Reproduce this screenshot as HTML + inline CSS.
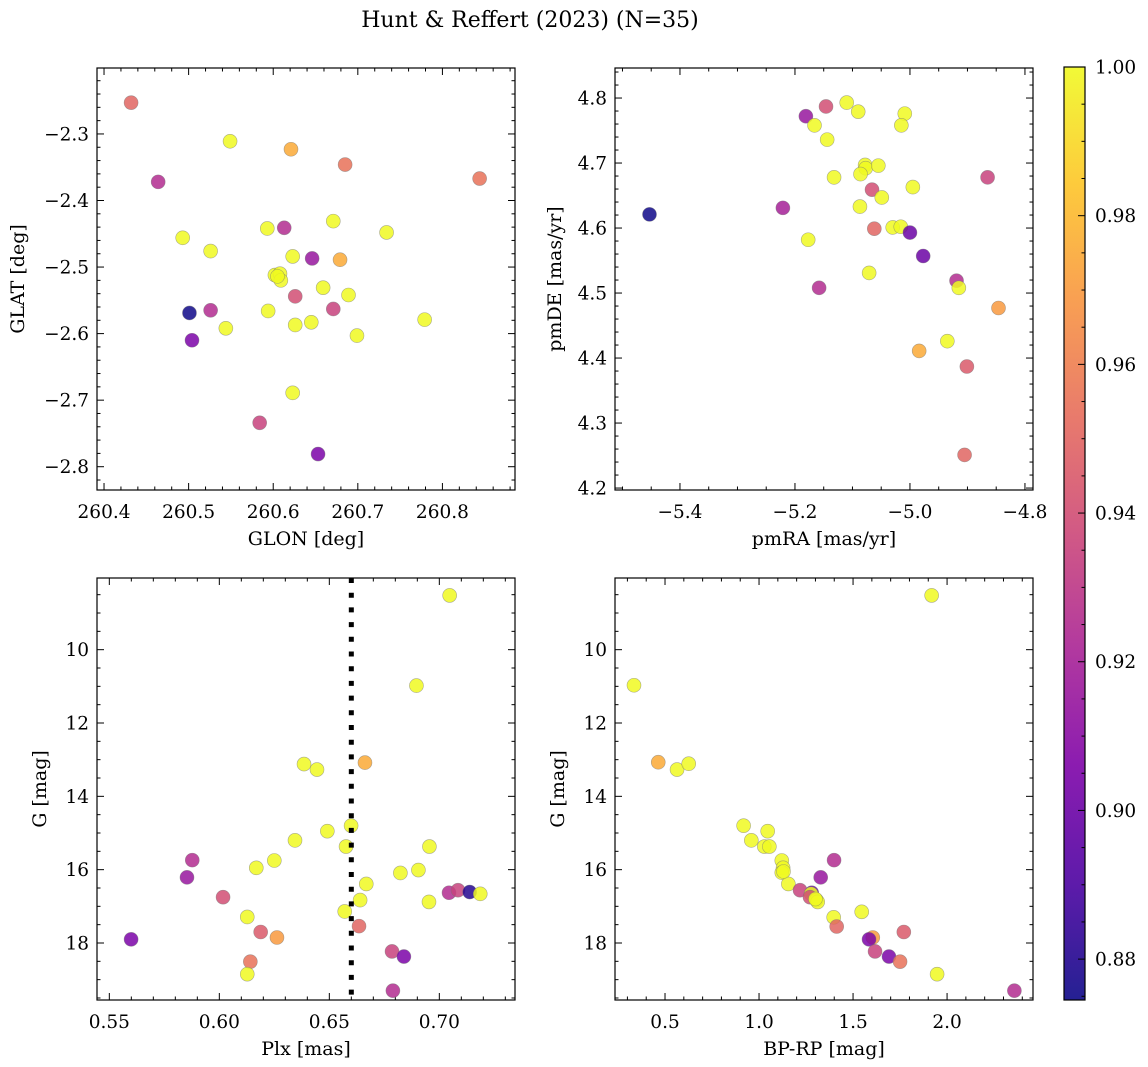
<!DOCTYPE html>
<html><head><meta charset="utf-8">
<style>
html,body{margin:0;padding:0;background:#fff;}
svg{display:block;font-family:"DejaVu Serif","Liberation Serif",serif;}
</style></head>
<body>
<svg id="fig" width="1148" height="1067" viewBox="0 0 1148 1067" xmlns="http://www.w3.org/2000/svg">
<defs>
<linearGradient id="plasma" x1="0" y1="1" x2="0" y2="0">
<stop offset="0" stop-color="#0d0887"/><stop offset="0.125" stop-color="#4c02a1"/><stop offset="0.25" stop-color="#7e03a8"/><stop offset="0.375" stop-color="#a92395"/><stop offset="0.5" stop-color="#cc4778"/><stop offset="0.625" stop-color="#e66c5c"/><stop offset="0.75" stop-color="#f89540"/><stop offset="0.875" stop-color="#fdc527"/><stop offset="1" stop-color="#f0f921"/>
</linearGradient>
</defs>
<text x="530" y="27" font-size="22" text-anchor="middle">Hunt &amp; Reffert (2023) (N=35)</text>
</svg>
<script>
// ---- data ----
const glon = [260.432,260.549,260.621,260.685,260.844,260.464,260.671,260.593,260.613,260.493,260.734,260.526,260.623,260.646,260.679,260.602,260.608,260.609,260.659,260.626,260.689,260.501,260.526,260.594,260.671,260.779,260.626,260.645,260.544,260.699,260.504,260.623,260.584,260.653,260.605];
const glat = [-2.253,-2.311,-2.323,-2.346,-2.367,-2.372,-2.431,-2.442,-2.441,-2.456,-2.448,-2.476,-2.484,-2.487,-2.489,-2.512,-2.510,-2.520,-2.531,-2.544,-2.542,-2.569,-2.565,-2.566,-2.563,-2.579,-2.587,-2.583,-2.592,-2.603,-2.610,-2.689,-2.734,-2.781,-2.514];
const prob1 = [0.95,1,0.975,0.955,0.955,0.925,1,1,0.925,1,1,1,1,0.915,0.975,1,1,1,1,0.94,1,0.875,0.925,1,0.935,1,1,1,1,1,0.905,1,0.935,0.905,1];

const pmra = [-5.453,-5.221,-5.181,-5.146,-5.110,-5.090,-5.166,-5.144,-5.009,-5.015,-5.078,-5.077,-5.055,-5.086,-5.132,-4.865,-5.066,-4.995,-5.049,-5.087,-5.062,-5.030,-5.016,-5.000,-5.177,-4.977,-5.071,-4.919,-4.915,-5.158,-4.846,-4.935,-4.984,-4.901,-4.905];
const pmde = [4.621,4.631,4.772,4.787,4.793,4.779,4.758,4.736,4.776,4.758,4.697,4.692,4.696,4.683,4.678,4.678,4.659,4.663,4.647,4.633,4.599,4.601,4.602,4.593,4.582,4.557,4.531,4.519,4.508,4.508,4.477,4.426,4.411,4.387,4.251];
const prob2 = [0.875,0.92,0.915,0.94,1,1,1,1,1,1,1,1,1,1,1,0.935,0.94,1,1,1,0.95,1,1,0.9,1,0.9,1,0.925,1,0.925,0.97,1,0.975,0.945,0.95];

const plx = [0.7047,0.6896,0.6385,0.6444,0.6662,0.6599,0.6491,0.6344,0.6576,0.6955,0.5877,0.6250,0.6168,0.6905,0.6823,0.5853,0.6668,0.7044,0.7085,0.7138,0.7186,0.6017,0.6640,0.6953,0.6570,0.6127,0.6635,0.6188,0.6262,0.5599,0.6785,0.6839,0.6141,0.6127,0.6789];
const gmag3 = [8.52,10.98,13.12,13.27,13.08,14.80,14.95,15.20,15.37,15.37,15.74,15.75,15.95,16.01,16.09,16.21,16.39,16.63,16.56,16.61,16.66,16.75,16.83,16.88,17.14,17.29,17.54,17.70,17.85,17.90,18.23,18.37,18.51,18.85,19.30];
const prob3 = [1,1,1,1,0.975,1,1,1,1,1,0.925,1,1,1,1,0.915,1,0.925,0.935,0.88,1,0.94,1,1,1,1,0.95,0.945,0.97,0.905,0.935,0.905,0.955,1,0.925];

const bprp = [1.918,0.335,0.464,0.564,0.626,0.918,1.046,0.959,1.028,1.055,1.399,1.121,1.128,1.121,1.328,1.156,1.218,1.280,1.277,1.271,1.305,1.312,1.546,1.397,1.413,1.770,1.605,1.585,1.617,1.691,1.750,1.947,2.358,1.130,1.300];
const gmag4 = [8.52,10.97,13.07,13.27,13.11,14.80,14.95,15.20,15.37,15.37,15.74,15.75,15.95,16.08,16.21,16.39,16.56,16.63,16.66,16.75,16.83,16.88,17.15,17.30,17.55,17.70,17.85,17.90,18.23,18.37,18.51,18.85,19.30,16.05,16.80];
const prob4 = [1,1,0.975,1,1,1,1,1,1,1,0.925,1,1,1,0.915,1,0.935,0.9,1,0.94,1,1,1,1,0.95,0.945,0.97,0.905,0.935,0.905,0.955,1,0.925,1,1];

const plxLine = [0.66];
const cbTicks = [0.88,0.90,0.92,0.94,0.96,0.98,1.00];

// ---- helpers ----
const NS = "http://www.w3.org/2000/svg";
const svg = document.getElementById("fig");
function mk(tag, attrs, parent){const e=document.createElementNS(NS,tag);for(const k in attrs)e.setAttribute(k,attrs[k]);(parent||svg).appendChild(e);return e;}
const stops=[[13,8,135],[76,2,161],[126,3,168],[169,35,149],[204,71,120],[230,108,92],[248,149,64],[253,197,39],[240,249,33]];
const cmin=0.8745,cmax=1.0;
function cmap(v){let t=(v-cmin)/(cmax-cmin);t=Math.max(0,Math.min(1,t));const f=t*8;const i=Math.min(7,Math.floor(f));const r=f-i;const a=stops[i],b=stops[i+1];return `rgb(${Math.round(a[0]+(b[0]-a[0])*r)},${Math.round(a[1]+(b[1]-a[1])*r)},${Math.round(a[2]+(b[2]-a[2])*r)})`;}
function fmt(v,d){const s=Math.abs(v).toFixed(d);return (v<-1e-9?"\u2212":"")+s;}
const TFS=18.5, LFS=19;

function panel(cfg){
  const {L,T,W,H,xmin,xmax,ymin,ymax,xmaj,xmin_,ymaj,ymin_,xdec,ydec,xlabel,ylabel,name,yinv,xs,ys,cs,ylabX}=cfg;
  const g=mk("g",{});
  
  
  const X=v=>L+(v-xmin)/(xmax-xmin)*W;
  const Y=v=>yinv? T+(v-ymin)/(ymax-ymin)*H : T+H-(v-ymin)/(ymax-ymin)*H;
  const e=1e-9;
  const tg=mk("g",{stroke:"#000","stroke-width":1},g);
  for(let v=Math.ceil(xmin/xmin_-e)*xmin_; v<=xmax+e; v+=xmin_){
    const isMaj=Math.abs(v/xmaj-Math.round(v/xmaj))<1e-6; const len=isMaj?7:3.5; const x=X(v);
    mk("line",{x1:x,x2:x,y1:T+H,y2:T+H-len},tg); mk("line",{x1:x,x2:x,y1:T,y2:T+len},tg);
    if(isMaj){const t=mk("text",{x:x,y:T+H+28,"font-size":TFS,"text-anchor":"middle",stroke:"none"},g);t.textContent=fmt(v,xdec);
      
      }
  }
  for(let v=Math.ceil(ymin/ymin_-e)*ymin_; v<=ymax+e; v+=ymin_){
    const isMaj=Math.abs(v/ymaj-Math.round(v/ymaj))<1e-6; const len=isMaj?7:3.5; const y=Y(v);
    mk("line",{x1:L,x2:L+len,y1:y,y2:y},tg); mk("line",{x1:L+W,x2:L+W-len,y1:y,y2:y},tg);
    if(isMaj){const t=mk("text",{x:L-8,y:y+6.5,"font-size":TFS,"text-anchor":"end"},g);t.textContent=fmt(v,ydec);
      
      }
  }
  const pg=mk("g",{},g);
  for(let i=0;i<xs.length;i++){
    const c=mk("circle",{cx:X(xs[i]),cy:Y(ys[i]),r:7,fill:cmap(cs[i]),"fill-opacity":0.85,stroke:"#777","stroke-opacity":0.6,"stroke-width":0.6},pg);
    
    
  }
  if(cfg.vline){for(const v of cfg.vline){const l=mk("line",{x1:X(v),x2:X(v),y1:T,y2:T+H,stroke:"#000","stroke-width":5,"stroke-dasharray":"5 9.7"},g);
    
    }}
  const fr=mk("rect",{x:L,y:T,width:W,height:H,fill:"none",stroke:"#000","stroke-width":1.2},g);
  
  
  const xl=mk("text",{x:L+W/2,y:T+H+55,"font-size":LFS,"text-anchor":"middle"},g);xl.textContent=xlabel;
  
  
  const yx=ylabX, yy=T+H/2;
  const yl=mk("text",{x:yx,y:yy,"font-size":LFS,"text-anchor":"middle",transform:`rotate(-90 ${yx} ${yy})`},g);yl.textContent=ylabel;
  
  
}

panel({name:"glon-glat-panel",L:97,T:68,W:418,H:422,xmin:260.3917,xmax:260.8858,ymin:-2.835,ymax:-2.2009,xmaj:0.1,xmin_:0.02,ymaj:0.1,ymin_:0.02,xdec:1,ydec:1,xlabel:"GLON [deg]",ylabel:"GLAT [deg]",xs:glon,ys:glat,cs:prob1,ylabX:24});
panel({name:"pm-panel",L:615,T:68,W:418,H:422,xmin:-5.513,xmax:-4.786,ymin:4.197,ymax:4.8462,xmaj:0.2,xmin_:0.05,ymaj:0.1,ymin_:0.02,xdec:1,ydec:1,xlabel:"pmRA [mas/yr]",ylabel:"pmDE [mas/yr]",xs:pmra,ys:pmde,cs:prob2,ylabX:561});
panel({name:"plx-g-panel",L:97,T:578,W:418,H:422,xmin:0.5444,xmax:0.7344,ymin:8.045,ymax:19.555,yinv:true,xmaj:0.05,xmin_:0.01,ymaj:2,ymin_:0.5,xdec:2,ydec:0,xlabel:"Plx [mas]",ylabel:"G [mag]",xs:plx,ys:gmag3,cs:prob3,ylabX:46,vline:plxLine});
panel({name:"cmd-panel",L:615,T:578,W:418,H:422,xmin:0.234,xmax:2.457,ymin:8.045,ymax:19.555,yinv:true,xmaj:0.5,xmin_:0.1,ymaj:2,ymin_:0.5,xdec:1,ydec:0,xlabel:"BP-RP [mag]",ylabel:"G [mag]",xs:bprp,ys:gmag4,cs:prob4,ylabX:564});

(function(){
  const L=1064,T=67,W=21,H=933;
  const g=mk("g",{});
  
  
  const Y=v=>T+H-(v-cmin)/(cmax-cmin)*H;
  mk("rect",{x:L,y:T,width:W,height:H,fill:"url(#plasma)","fill-opacity":0.9},g);
  mk("rect",{x:L,y:T,width:W,height:H,fill:"none",stroke:"#000","stroke-width":1.2},g);
  for(let k=Math.ceil(cmin/0.005);k*0.005<=cmax+1e-9;k++){const v=k*0.005;const y=Y(v);const maj=k%4===0;
    mk("line",{x1:L+W,x2:L+W-(maj?7:3.5),y1:y,y2:y,stroke:"#000","stroke-width":1},g);}
  for(const v of cbTicks){const t=mk("text",{x:L+W+10,y:Y(v)+6.5,"font-size":TFS},g);t.textContent=v.toFixed(2);
    
    }
})();
</script>
</body></html>
